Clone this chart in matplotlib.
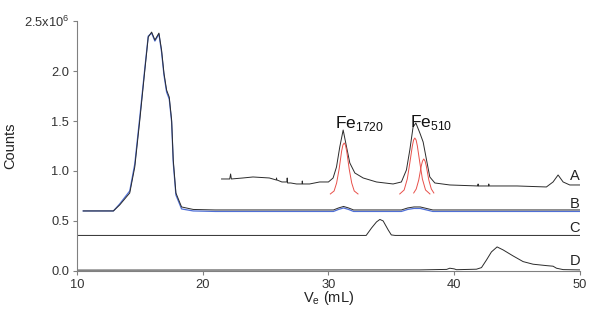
import matplotlib
matplotlib.use('Agg')
import matplotlib.pyplot as plt

plt.rcParams['font.family'] = ['Liberation Sans', 'DejaVu Sans']
plt.rcParams['mathtext.fontset'] = 'custom'
plt.rcParams['mathtext.rm'] = 'Liberation Sans'

# trace B (black) and overlay (blue)
b_x = [10.5, 11.5, 12.9, 13.4, 14.2, 14.6, 15.0, 15.4, 15.67, 15.94, 16.2, 16.52, 16.73,
       16.92, 17.13, 17.34, 17.53, 17.66, 17.87, 18.32, 19.25, 21.0, 25.0, 30.4, 30.8,
       31.2, 31.6, 32.0, 35.8, 36.3, 36.8, 37.3, 37.8, 38.3, 42.0, 46.0, 50.0]
b_y = [0.60, 0.60, 0.60, 0.66, 0.78, 1.04, 1.51, 2.01, 2.34, 2.39, 2.31, 2.38, 2.21,
       1.98, 1.81, 1.74, 1.51, 1.11, 0.78, 0.64, 0.615, 0.61, 0.61, 0.61, 0.63,
       0.645, 0.63, 0.61, 0.61, 0.63, 0.64, 0.64, 0.625, 0.61, 0.61, 0.61, 0.61]
blue_y = [0.60, 0.60, 0.60, 0.67, 0.80, 1.07, 1.54, 2.03, 2.35, 2.38, 2.30, 2.37, 2.19,
          1.96, 1.79, 1.72, 1.49, 1.08, 0.76, 0.62, 0.60, 0.595, 0.595, 0.595, 0.615,
          0.63, 0.615, 0.595, 0.595, 0.615, 0.625, 0.625, 0.61, 0.595, 0.595, 0.595, 0.595]

# trace A
a_x = [21.5, 22.15, 22.22, 22.28, 23.2, 24.0, 25.3, 25.85, 25.87, 25.9, 26.3, 26.7, 26.72,
       26.75, 27.0, 27.46, 27.9, 27.92, 27.95, 28.5, 29.3, 30.0, 30.37, 30.64, 30.9, 31.17,
       31.44, 31.7, 32.1, 32.76, 33.82, 35.14, 35.8, 36.2, 36.47, 36.73, 36.95, 37.27, 37.53,
       37.8, 38.06, 38.46, 39.65, 41.88, 41.9, 41.92, 42.73, 42.75, 42.77, 45.0, 47.33,
       47.86, 48.26, 48.66, 49.19, 50.0]
a_y = [0.92, 0.92, 0.97, 0.92, 0.93, 0.94, 0.93, 0.91, 0.93, 0.91, 0.89, 0.89, 0.93,
       0.88, 0.88, 0.87, 0.87, 0.90, 0.87, 0.87, 0.89, 0.89, 0.93, 1.04, 1.24, 1.41,
       1.24, 1.08, 0.98, 0.93, 0.89, 0.87, 0.89, 1.01, 1.21, 1.44, 1.48, 1.38, 1.29,
       1.11, 0.94, 0.88, 0.86, 0.85, 0.87, 0.85, 0.85, 0.87, 0.85, 0.85, 0.84,
       0.89, 0.96, 0.89, 0.86, 0.86]

# fitted peaks (red)
r1_x = [30.15, 30.45, 30.65, 30.85, 31.05, 31.15, 31.25, 31.35, 31.45, 31.65, 31.85, 32.05, 32.35]
r1_y = [0.77, 0.80, 0.88, 1.02, 1.20, 1.26, 1.28, 1.26, 1.20, 1.02, 0.88, 0.80, 0.77]
r2_x = [35.67, 36.02, 36.27, 36.47, 36.67, 36.77, 36.87, 36.97, 37.07, 37.27, 37.47, 37.72, 38.07]
r2_y = [0.77, 0.81, 0.92, 1.08, 1.25, 1.31, 1.33, 1.31, 1.25, 1.08, 0.92, 0.81, 0.77]
r3_x = [36.78, 36.98, 37.18, 37.38, 37.48, 37.58, 37.68, 37.78, 37.98, 38.18, 38.38]
r3_y = [0.78, 0.82, 0.91, 1.05, 1.10, 1.12, 1.10, 1.05, 0.91, 0.82, 0.78]

# trace C
c_x = [10.0, 33.0, 33.43, 33.82, 34.09, 34.35, 34.75, 35.0, 35.3, 50.0]
c_y = [0.355, 0.355, 0.43, 0.49, 0.515, 0.50, 0.41, 0.36, 0.355, 0.355]

# trace D
d_x = [10.0, 37.27, 39.4, 39.65, 40.0, 40.18, 41.77, 42.17, 42.57, 42.96, 43.41, 43.89,
       44.68, 45.48, 46.27, 47.33, 47.86, 48.13, 48.66, 50.0]
d_y = [0.008, 0.01, 0.015, 0.027, 0.02, 0.012, 0.017, 0.033, 0.11, 0.19, 0.24, 0.21,
       0.15, 0.093, 0.067, 0.053, 0.047, 0.027, 0.013, 0.01]

trace_labels = ['A', 'B', 'C', 'D']
label_y = [0.95, 0.665, 0.43, 0.097]

ytick_vals = [0.0, 0.5, 1.0, 1.5, 2.0, 2.5]
ytick_text = ['0.0', '0.5', '1.0', '1.5', '2.0', r'2.5x10$^{\mathregular{6}}$']
xtick_vals = [10, 20, 30, 40, 50]

fig = plt.figure(figsize=(6.01, 3.15), dpi=100)
ax = fig.add_axes([0.128, 0.140, 0.837, 0.793])

line_col = '#2b2b2b'
ax.plot(b_x, blue_y, color='#4f6fd6', lw=0.9, zorder=2)
ax.plot(b_x, b_y, color=line_col, lw=0.7, zorder=3)
ax.plot(a_x, a_y, color=line_col, lw=0.7)
for rx, ry in [(r1_x, r1_y), (r2_x, r2_y), (r3_x, r3_y)]:
    ax.plot(rx, ry, color='#e8504a', lw=0.7)
ax.plot(c_x, c_y, color=line_col, lw=0.7)
ax.plot(d_x, d_y, color=line_col, lw=0.7)

for lab, ly in zip(trace_labels, label_y):
    ax.text(49.6, ly, lab, ha='center', va='center', fontsize=10.5, color='#222')

ax.text(30.55, 1.43, r'Fe$_{\mathregular{1720}}$', fontsize=12.5, color='#111', va='baseline')
ax.text(36.45, 1.44, r'Fe$_{\mathregular{510}}$', fontsize=12.5, color='#111', va='baseline')

ax.set_xlim(10, 50)
ax.set_ylim(0, 2.5)
ax.set_xticks(xtick_vals)
ax.set_yticks(ytick_vals)
ax.set_yticklabels(ytick_text)

for s in ['top', 'right']:
    ax.spines[s].set_visible(False)
for s in ['left', 'bottom']:
    ax.spines[s].set_color('#808080')
    ax.spines[s].set_linewidth(0.8)
ax.tick_params(direction='out', length=3, width=0.8, color='#808080',
               labelsize=9.3, labelcolor='#333333', pad=2.5)

ax.set_ylabel('Counts', fontsize=10.5, color='#222')
ax.yaxis.set_label_coords(-0.118, 0.5)
ax.set_xlabel(r'V$_{\mathregular{e}}$ (mL)', fontsize=10.5, color='#222', labelpad=-1)

fig.savefig('out.png', dpi=100)
